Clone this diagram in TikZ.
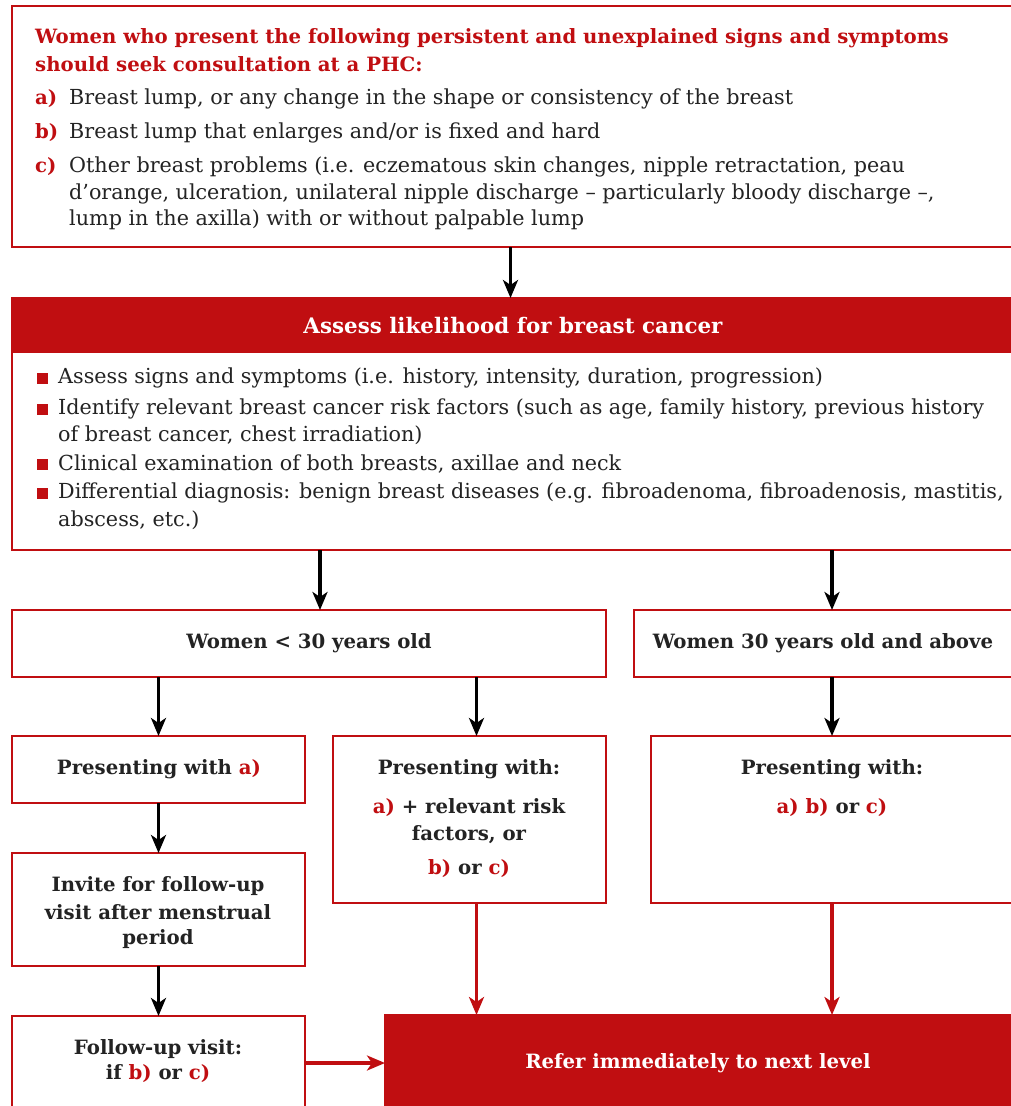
\documentclass[tikz,border=0pt]{standalone}
\usepackage{fontspec}
\setmainfont{DejaVu Serif}
\usetikzlibrary{arrows.meta}
\definecolor{flowRed}{RGB}{192,14,17}
\definecolor{textGray}{RGB}{35,35,35}
\tikzstyle{flowChart} = [x = 1pt, y = -1pt]
\tikzstyle{boxStyle} = [draw=flowRed, line width=1.8, fill=white, inner sep=0, outer sep=0]
\tikzstyle{filledBoxStyle} = [boxStyle, fill=flowRed]
\tikzstyle{bodyText} = [anchor=west, inner sep=0, text=textGray, font=\bodyFont]
\tikzstyle{labelText} = [bodyText, text=flowRed, font=\boldFont\bfseries]
\tikzstyle{introText} = [bodyText, text=flowRed, font=\boldFont\bfseries]
\tikzstyle{boxText} = [inner sep=0, text=textGray, font=\boldFont\bfseries]
\tikzstyle{whiteText} = [inner sep=0, text=white, font=\boldFont\bfseries]
\tikzstyle{bulletStyle} = [fill=flowRed, inner sep=0, minimum size=11]
\tikzstyle{flowArrow} = [line width=3.8, -{Stealth[length=18pt, width=15pt, inset=5pt]}]
\tikzstyle{referArrow} = [flowArrow, flowRed, line width=3.2]
\newcommand{\bodyFont}{\fontsize{20.7}{26}\selectfont}
\newcommand{\boldFont}{\fontsize{19.7}{25}\selectfont}
\newcommand{\titleFont}{\fontsize{21.4}{26}\selectfont}
\newcommand{\redLabel}[1]{\textcolor{flowRed}{#1}}
\newcommand{\flowBox}[6]{\node [#6, minimum width={(#4 - #2)*1pt}, minimum height={(#5 - #3)*1pt}] (#1) at ({(#2 + #4)/2}, {(#3 + #5)/2}) {};}

\begin{document}
\begin{tikzpicture}[flowChart]
  \useasboundingbox (0,0) rectangle (1011,1106);
  \clip (0,0) rectangle (1011,1106);

  % boxes
  \flowBox{intro}{12}{6}{1013}{247}{boxStyle}
  \flowBox{assessBody}{12}{352}{1013}{550}{boxStyle}
  \flowBox{assessHead}{12}{298}{1013}{352}{filledBoxStyle}
  \flowBox{under30}{12}{610}{606}{677}{boxStyle}
  \flowBox{over30}{634}{610}{1013}{677}{boxStyle}
  \flowBox{presA}{12}{736}{305}{803}{boxStyle}
  \flowBox{presB}{333}{736}{606}{903}{boxStyle}
  \flowBox{presC}{651}{736}{1013}{903}{boxStyle}
  \flowBox{invite}{12}{853}{305}{966}{boxStyle}
  \flowBox{followUp}{12}{1016}{305}{1125}{boxStyle}
  \flowBox{refer}{385}{1015}{1013}{1125}{filledBoxStyle}

  % intro text
  \node [introText] (introA) at (35,38) {Women who present the following persistent and unexplained signs and symptoms};
  \node [introText] (introB) at (35,64) {should seek consultation at a PHC:};
  \node [labelText] (labA) at (35,99) {a)};
  \node [bodyText] (itemA) at (69,99) {Breast lump, or any change in the shape or consistency of the breast};
  \node [labelText] (labB) at (35,133) {b)};
  \node [bodyText] (itemB) at (69,133) {Breast lump that enlarges and/or is fixed and hard};
  \node [labelText] (labC) at (35,167) {c)};
  \node [bodyText] (itemC) at (69,167) {Other breast problems (i.e. eczematous skin changes, nipple retractation, peau};
  \node [bodyText] (itemCb) at (69,194) {d'orange, ulceration, unilateral nipple discharge -- particularly bloody discharge --,};
  \node [bodyText] (itemCc) at (69,220) {lump in the axilla) with or without palpable lump};

  % assess text
  \node [whiteText, font=\titleFont\bfseries] (assessTitle) at (513,326) {Assess likelihood for breast cancer};
  \foreach \yy/\nn in {378/1, 409/2, 464/3, 493/4}
    \node [bulletStyle] (bullet\nn) at (42,\yy) {};
  \node [bodyText] (stepA) at (58,378) {Assess signs and symptoms (i.e. history, intensity, duration, progression)};
  \node [bodyText] (stepB) at (58,409) {Identify relevant breast cancer risk factors (such as age, family history, previous history};
  \node [bodyText] (stepBb) at (58,435) {of breast cancer, chest irradiation)};
  \node [bodyText] (stepC) at (58,464) {Clinical examination of both breasts, axillae and neck};
  \node [bodyText] (stepD) at (58,493) {Differential diagnosis: benign breast diseases (e.g. fibroadenoma, fibroadenosis, mastitis,};
  \node [bodyText] (stepDb) at (58,520) {abscess, etc.)};

  % box texts
  \node [boxText] (under30Text) at (309,643) {Women < 30 years old};
  \node [boxText] (over30Text) at (823,643) {Women 30 years old and above};
  \node [boxText] (presAText) at (159,769) {Presenting with \redLabel{a)}};
  \node [boxText] (presBText) at (469,769) {Presenting with:};
  \node [boxText] (presBa) at (469,808) {\redLabel{a)} + relevant risk};
  \node [boxText] (presBb) at (469,835) {factors, or};
  \node [boxText] (presBc) at (469,869) {\redLabel{b)} or \redLabel{c)}};
  \node [boxText] (presCText) at (832,769) {Presenting with:};
  \node [boxText] (presCa) at (832,808) {\redLabel{a) b)} or \redLabel{c)}};
  \node [boxText] (inviteA) at (158,886) {Invite for follow-up};
  \node [boxText] (inviteB) at (158,912) {visit after menstrual};
  \node [boxText] (inviteC) at (158,939) {period};
  \node [boxText] (followA) at (158,1049) {Follow-up visit:};
  \node [boxText] (followB) at (158,1074) {if \redLabel{b)} or \redLabel{c)}};
  \node [whiteText] (referText) at (698,1063) {Refer immediately to next level};

  % connectors
  \draw [flowArrow] ([xshift=-2]intro.south) -- ([xshift=-2]assessHead.north);
  \draw [flowArrow] ([xshift=11]under30.north |- assessBody.south) -- ([xshift=11]under30.north);
  \draw [flowArrow] (presC.north |- assessBody.south) -- (presC.north |- over30.north);
  \draw [flowArrow] (presA.north |- under30.south) -- (presA.north);
  \draw [flowArrow] ([xshift=7]presB.north |- under30.south) -- ([xshift=7]presB.north);
  \draw [flowArrow] (presC.north |- over30.south) -- (presC.north);
  \draw [flowArrow] (presA.south) -- (invite.north);
  \draw [flowArrow] (invite.south) -- (followUp.north);
  \draw [referArrow] ([xshift=7]presB.south) -- ([xshift=7]presB.south |- refer.north);
  \draw [referArrow] (presC.south) -- (presC.south |- refer.north);
  \draw [referArrow] (followUp.east |- referText) -- (refer.west |- referText);
\end{tikzpicture}
\end{document}
